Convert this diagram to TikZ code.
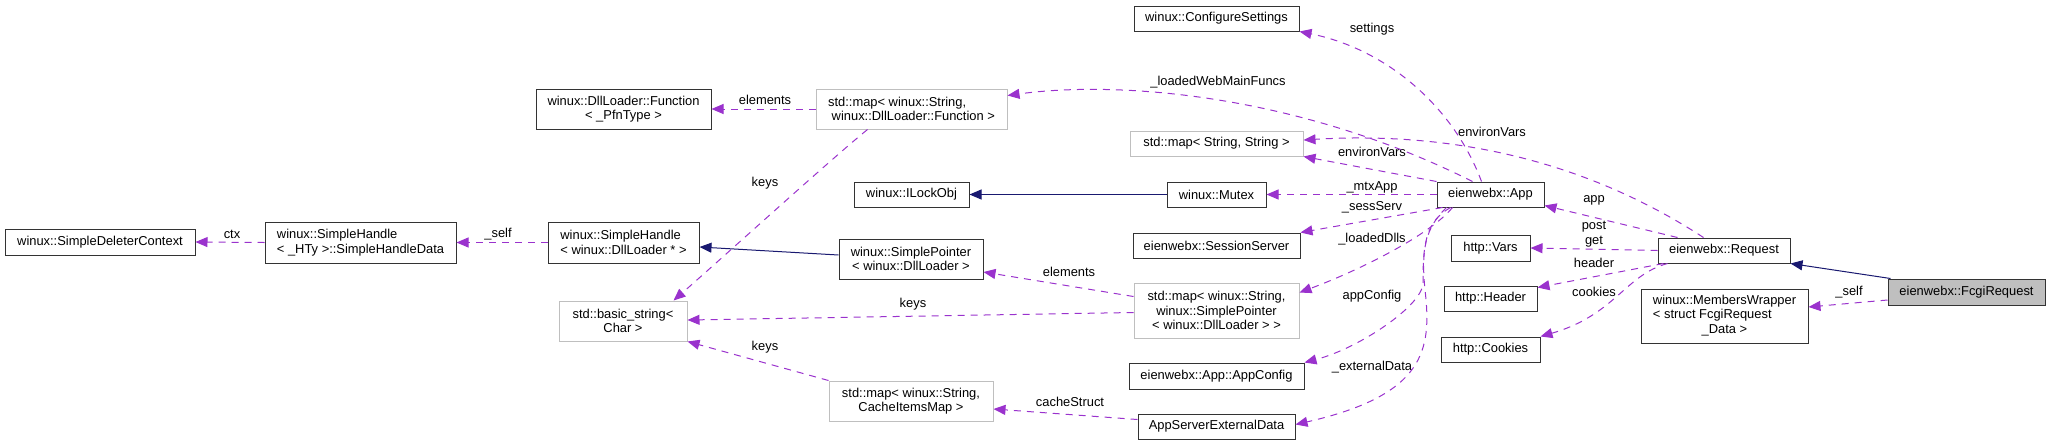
\documentclass[tikz,border=0pt]{standalone}
\usepackage{fontspec}
\setmainfont{Liberation Sans}
\usetikzlibrary{arrows.meta,calc}
\definecolor{depc}{HTML}{9A32CD}
\definecolor{inhc}{HTML}{191970}
\definecolor{gborder}{HTML}{BFBFBF}
\definecolor{gfill}{HTML}{BFBFBF}
\begin{document}
\begin{tikzpicture}[x=1pt,y=-1pt,
  every node/.style={font=\fontsize{12.9}{14.5}\selectfont, inner sep=0pt},
  cls/.style={draw=black!80, line width=1pt, fill=white},
  ext/.style={draw=gborder, line width=1pt, fill=white},
  cur/.style={draw=black!80, line width=1pt, fill=gfill},
  lbl/.style={},
  dep/.style={depc, line width=1pt, dash pattern=on 7pt off 6pt, -{Triangle[length=12pt,width=10pt]}},
  inh/.style={inhc, line width=1pt, -{Triangle[length=12pt,width=10pt]}}]
\useasboundingbox (0,0) rectangle (2051,445);
% nodes
\node[cls, minimum width=190, minimum height=26] (sdc) at (100,242) {winux::SimpleDeleterContext};
\node[cls, minimum width=191, minimum height=41, align=left] (shd) at (360.5,242.5) {winux::SimpleHandle\\< \_HTy >::SimpleHandleData};
\node[cls, minimum width=175, minimum height=40, align=center] (dlf) at (623.5,109) {winux::DllLoader::Function\\< \_PfnType >};
\node[ext, minimum width=191, minimum height=40, align=left] (mapf) at (911.5,109) {std::map< winux::String,\\\ winux::DllLoader::Function >};
\node[cls, minimum width=151, minimum height=41, align=left] (shdl) at (623.5,242.5) {winux::SimpleHandle\\< winux::DllLoader * >};
\node[cls, minimum width=115, minimum height=25] (ilock) at (911.5,194.5) {winux::ILockObj};
\node[cls, minimum width=144, minimum height=40, align=center] (sptr) at (911,259) {winux::SimplePointer\\< winux::DllLoader >};
\node[ext, minimum width=128, minimum height=40, align=center] (bstr) at (623,321) {std::basic\_string<\\Char >};
\node[ext, minimum width=164, minimum height=40, align=center] (mapc) at (911,401) {std::map< winux::String,\\CacheItemsMap >};
\node[cls, minimum width=165, minimum height=25] (cfg) at (1216.5,18.5) {winux::ConfigureSettings};
\node[ext, minimum width=173, minimum height=25] (mapss) at (1216.5,143.5) {std::map< String, String >};
\node[cls, minimum width=99, minimum height=25] (mutex) at (1216.5,194.5) {winux::Mutex};
\node[cls, minimum width=167, minimum height=25] (sess) at (1216.5,245.5) {eienwebx::SessionServer};
\node[ext, minimum width=165, minimum height=55, align=center] (mapsp) at (1216.5,310.5) {std::map< winux::String,\\winux::SimplePointer\\< winux::DllLoader > >};
\node[cls, minimum width=175, minimum height=26] (acfg) at (1216.5,376) {eienwebx::App::AppConfig};
\node[cls, minimum width=157, minimum height=25] (ased) at (1216.5,426.5) {AppServerExternalData};
\node[cls, minimum width=107, minimum height=25] (app) at (1490.5,194.5) {eienwebx::App};
\node[cls, minimum width=79, minimum height=26] (vars) at (1490.5,248) {http::Vars};
\node[cls, minimum width=93, minimum height=25] (header) at (1490.5,298.5) {http::Header};
\node[cls, minimum width=99, minimum height=25] (cookies) at (1490.5,349.5) {http::Cookies};
\node[cls, minimum width=132, minimum height=25] (req) at (1724,250.5) {eienwebx::Request};
\node[cls, minimum width=167, minimum height=54] (mw) at (1724.5,316) {\begin{tabular}{@{}l@{}}winux::MembersWrapper\\< struct FcgiRequest\\\multicolumn{1}{@{}c@{}}{\_Data >}\end{tabular}};
\node[cur, minimum width=157, minimum height=26] (fcgi) at (1966.5,292) {eienwebx::FcgiRequest};
% labels
\node[lbl] (l-ctx) at (232,234) {ctx};
\node[lbl] (l-self1) at (498,234) {\_self};
\node[lbl] (l-elem1) at (765,100) {elements};
\node[lbl] (l-keys1) at (765,183) {keys};
\node[lbl] (l-lwmf) at (1218,82) {\_loadedWebMainFuncs};
\node[lbl] (l-set) at (1372,29) {settings};
\node[lbl] (l-env1) at (1492,132) {environVars};
\node[lbl] (l-env2) at (1372,152) {environVars};
\node[lbl] (l-mtx) at (1372,187) {\_mtxApp};
\node[lbl] (l-sess) at (1372,207) {\_sessServ};
\node[lbl] (l-ldl) at (1372,239) {\_loadedDlls};
\node[lbl] (l-acfg) at (1372,296) {appConfig};
\node[lbl] (l-ext) at (1372,367) {\_externalData};
\node[lbl] (l-elem2) at (1069,272) {elements};
\node[lbl] (l-keys2) at (913,304) {keys};
\node[lbl] (l-keys3) at (765,347) {keys};
\node[lbl] (l-cache) at (1070,402) {cacheStruct};
\node[lbl] (l-app) at (1594,200) {app};
\node[lbl, align=center] (l-pg) at (1594,234) {post\\get};
\node[lbl] (l-hdr) at (1594,263) {header};
\node[lbl] (l-cook) at (1594,292) {cookies};
\node[lbl] (l-self2) at (1849,292) {\_self};
% dependency edges
\draw[dep] (shd.west) -- (sdc.east);
\draw[dep] (shdl.west) -- (shd.east);
\draw[dep] (mapf.west) -- (dlf.east);
\draw[dep] ($(mapf.south west)+(52,0)$) .. controls (830,160) and (720,260) .. ($(bstr.north east)+(-14,0)$);
\draw[dep] ($(app.north west)+(36,0)$) .. controls (1300,95) and (1120,80) .. ($(mapf.north east)+(0,7)$);
\draw[dep] ($(app.north west)+(45,0)$) .. controls (1455,110) and (1390,50) .. (cfg.south east);
\draw[dep] ($(req.north west)+(46,0)$) .. controls (1600,170) and (1470,130) .. ($(mapss.east)+(0,-3.5)$);
\draw[dep] (app.north west) -- (mapss.south east);
\draw[dep] (app.west) -- (mutex.east);
\draw[dep] ($(app.south west)+(6,0)$) -- (sess.north east);
\draw[dep] ($(app.south west)+(16,0)$) .. controls (1430,235) and (1360,270) .. ($(mapsp.north east)+(0,10)$);
\draw[dep] ($(app.south west)+(14,0)$) .. controls (1425,222) and (1423,245) .. (1423,283) .. controls (1423,305) and (1360,348) .. (acfg.north east);
\draw[dep] ($(app.south west)+(10,0)$) .. controls (1425,228) and (1421,250) .. (1425,290) .. controls (1432,350) and (1425,395) .. ($(ased.east)+(0,-2)$);
\draw[dep] ($(mapsp.west)+(0,-14)$) -- ($(sptr.east)+(0,13)$);
\draw[dep] ($(mapsp.west)+(0,2)$) -- ($(bstr.east)+(0,-1)$);
\draw[dep] (mapc.north west) -- (bstr.south east);
\draw[dep] ($(ased.west)+(0,-7)$) -- ($(mapc.east)+(0,8)$);
\draw[dep] ($(req.north west)+(20,0)$) -- ($(app.south east)+(0,-2)$);
\draw[dep] (req.west) -- (vars.east);
\draw[dep] ($(req.south west)+(6,0)$) -- ($(header.east)+(0,-11)$);
\draw[dep] ($(req.south west)+(10,0)$) .. controls (1625,275) and (1615,315) .. (cookies.north east);
\draw[dep] ($(fcgi.west)+(0,8)$) -- ($(mw.east)+(0,-9)$);
% inheritance edges
\draw[inh] (mutex.west) -- (ilock.east);
\draw[inh] ($(sptr.west)+(0,-4)$) -- ($(shdl.east)+(0,4.5)$);
\draw[inh] ($(fcgi.north west)+(3,0)$) -- (req.south east);
\end{tikzpicture}
\end{document}
